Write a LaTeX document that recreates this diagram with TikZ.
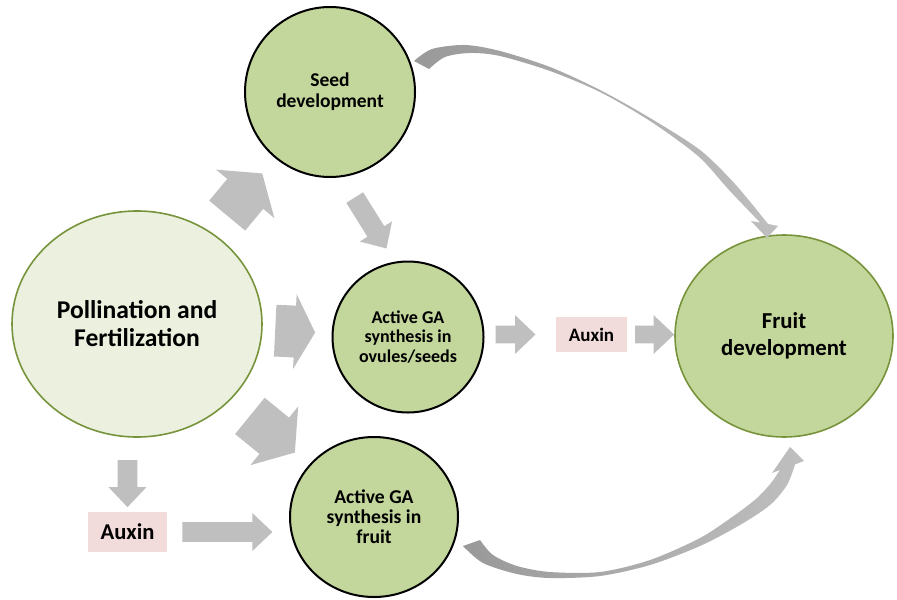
\documentclass[tikz,border=0pt]{standalone}
\usepackage{fontspec}
\setmainfont{Carlito}
\usetikzlibrary{shapes.geometric,shapes.arrows,calc}

\definecolor{leafgreen}{HTML}{C3D69B}
\definecolor{palegreen}{HTML}{EBF1DE}
\definecolor{rimgreen}{HTML}{77933C}
\definecolor{auxpink}{HTML}{F2DCDB}
\definecolor{arrowgray}{HTML}{BFBFBF}
\definecolor{curvedark}{HTML}{999999}
\definecolor{curvelight}{HTML}{EDEDED}

\begin{document}
\begin{tikzpicture}[
    x=0.5pt, y=-0.5pt,
    stage/.style={circle,draw=black,line width=1pt,fill=leafgreen,align=center,inner sep=0pt,font=\bfseries\fontsize{9.75}{10.5}\selectfont},
    bigstage/.style={ellipse,draw=rimgreen,line width=0.8pt,align=center,inner sep=0pt},
    hormone/.style={rectangle,fill=auxpink,align=center,inner sep=0pt},
    bigarrow/.style={single arrow,fill=arrowgray,inner xsep=0pt,inner ysep=11.5pt,minimum width=37.5pt,single arrow head extend=7.25pt,single arrow tip angle=110,sloped,allow upside down},
    smallarrow/.style={single arrow,fill=arrowgray,inner xsep=0pt,inner ysep=4.75pt,minimum width=19pt,single arrow head extend=4.5pt,single arrow tip angle=87,sloped,allow upside down},
    curvearrow/.style={left color=curvedark,middle color=curvelight,right color=arrowgray}
]
    \useasboundingbox (0,0) rectangle (897,599);

    \node[bigstage,fill=palegreen,minimum width=125pt,minimum height=113pt,font=\bfseries\fontsize{12.8}{14}\selectfont] (poll) at (137,324) {Pollination and\\Fertilization};
    \node[stage,minimum size=85pt] (seed) at (330,92) {Seed\\development};
    \node[stage,minimum size=75.5pt,font=\bfseries\fontsize{9}{9.75}\selectfont] (ovules) at (408,337) {Active GA\\synthesis in\\ovules/seeds};
    \node[stage,ellipse,minimum width=84pt,minimum height=80pt,font=\bfseries\fontsize{9.8}{10}\selectfont] (fruitga) at (374,517) {Active GA\\synthesis in\\fruit};
    \node[bigstage,fill=leafgreen,minimum width=109pt,minimum height=101pt,font=\bfseries\fontsize{11.4}{13.5}\selectfont] (fruit) at (784,336) {Fruit\\development};
    \node[hormone,minimum width=35.5pt,minimum height=17.5pt,font=\bfseries\fontsize{9.5}{11}\selectfont] (auxinR) at (591.5,334.5) {Auxin};
    \node[hormone,minimum width=39.5pt,minimum height=20pt,font=\bfseries\fontsize{11.3}{13}\selectfont] (auxinL) at (127.5,532) {Auxin};

    \path (poll) -- node[bigarrow,pos=0.43,minimum height=27.4pt] (a1) {} (seed);
    \path (poll) -- node[bigarrow,pos=0.37,minimum height=20pt,inner ysep=12.75pt,minimum width=37pt,single arrow head extend=5.75pt,single arrow tip angle=123] (a2) {} (ovules);
    \path (poll) -- node[bigarrow,pos=0.45,minimum height=29pt] (a3) {} (fruitga);
    \path (seed.-82) -- node[smallarrow,pos=0.49,minimum height=30pt] (a4) {} (ovules.100);
    \path (auxinL |- poll.south) -- node[smallarrow,pos=0.55,minimum height=23.5pt] (a5) {} (auxinL.north);
    \path (auxinL.east) -- node[smallarrow,pos=0.45,minimum height=45pt] (a6) {} (auxinL.east -| fruitga.west);
    \path (auxinR.west -| ovules.east) -- node[smallarrow,pos=0.37,minimum height=20pt,inner ysep=4.25pt,single arrow head extend=5.25pt] (a7) {} (auxinR.west);
    \path (auxinR.east) -- node[smallarrow,pos=0.48,minimum height=19.5pt,inner ysep=4.25pt,single arrow head extend=5.25pt] (a8) {} (auxinR.east -| fruit.west);

    \shade[curvearrow] plot[smooth] coordinates {(414,61) (432,49) (465,45) (500,51) (550,67) (600,90) (650,118) (700,150) (735,184) (768,224)}
        -- (778,226) -- (767,238) -- (751,221)
        -- plot[smooth] coordinates {(760,222.5) (729,190) (698,156) (650,121) (600,92) (550,71) (500,56) (470,53) (445,57) (429,69)} -- cycle;
    \shade[curvearrow] plot[smooth] coordinates {(463,546) (483,563) (517,574) (550,578) (600,576) (650,565) (700,546) (740,525) (770,505) (787,485) (795,464.4)}
        -- (804,461) -- (790,447) -- (772,473)
        -- plot[smooth] coordinates {(780,470) (771,483) (757,498) (735,515) (700,538) (650,560) (600,572) (550,572) (517,566) (493,555) (480,540)} -- cycle;
\end{tikzpicture}
\end{document}
